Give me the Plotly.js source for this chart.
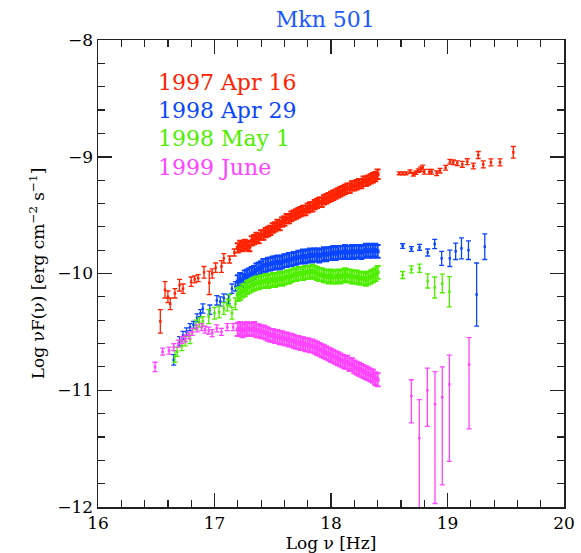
<!DOCTYPE html>
<html>
<head>
<meta charset="utf-8">
<script src="https://cdn.plot.ly/plotly-3.0.1.min.js"></script>
<style>html,body{margin:0;padding:0;background:#fff;}#chart{width:581px;height:553px;}</style>
</head>
<body>
<div id="chart"></div>
<script>
// ---- Data (log nu [Hz], log nuF(nu) [erg cm^-2 s^-1]) ----
const seriesNames = ["1997 Apr 16", "1998 Apr 29", "1998 May 1", "1999 June"];

// common frequency grid of the dense X-ray band (read every ~0.02 dex)
const xDense = [17.20,17.22,17.24,17.26,17.28,17.30,17.32,17.34,17.36,17.38,17.40,17.42,17.44,17.46,17.48,17.50,17.52,17.54,17.56,17.58,17.60,17.62,17.64,17.66,17.68,17.70,17.72,17.74,17.76,17.78,17.80,17.82,17.84,17.86,17.88,17.90,17.92,17.94,17.96,17.98,18.00,18.02,18.04,18.06,18.08,18.10,18.12,18.14,18.16,18.18,18.20,18.22,18.24,18.26,18.28,18.30,18.32,18.34,18.36,18.38,18.40];

// 1997 Apr 16 (red)
const redLowX = [16.535,16.575,16.60,16.62,16.66,16.70,16.73,16.80,16.83,16.86,16.91,16.955,16.98,17.01,17.06,17.08,17.13,17.17];
const redLowY = [-10.41,-10.14,-10.20,-10.26,-10.17,-10.10,-10.13,-10.07,-10.05,-10.04,-9.99,-10.08,-10.00,-9.95,-9.94,-9.87,-9.88,-9.82];
const redLowErr = [0.10,0.07,0.05,0.05,0.04,0.05,0.04,0.04,0.03,0.03,0.05,0.10,0.04,0.04,0.05,0.04,0.03,0.03];
const redDenseY = [-9.78,-9.76,-9.77,-9.75,-9.76,-9.77,-9.72,-9.71,-9.69,-9.70,-9.67,-9.67,-9.65,-9.64,-9.63,-9.61,-9.60,-9.58,-9.59,-9.56,-9.55,-9.53,-9.53,-9.51,-9.50,-9.49,-9.48,-9.47,-9.46,-9.46,-9.44,-9.43,-9.43,-9.41,-9.40,-9.39,-9.39,-9.37,-9.36,-9.35,-9.34,-9.33,-9.32,-9.31,-9.30,-9.29,-9.28,-9.27,-9.27,-9.25,-9.25,-9.24,-9.23,-9.23,-9.21,-9.21,-9.20,-9.19,-9.18,-9.17,-9.15];
const redDenseErr = 0.04;
const redHighX = [18.586,18.615,18.644,18.678,18.707,18.730,18.749,18.770,18.787,18.801,18.844,18.864,18.907,18.936,18.984,19.021,19.050,19.084,19.127,19.170,19.222,19.264,19.307,19.373,19.451,19.565];
const redHighY = [-9.142,-9.142,-9.142,-9.128,-9.150,-9.136,-9.119,-9.108,-9.091,-9.128,-9.128,-9.128,-9.142,-9.119,-9.094,-9.042,-9.048,-9.056,-9.065,-9.042,-9.079,-8.985,-9.065,-9.048,-9.048,-8.962];
const redHighErr = [0.012,0.012,0.012,0.015,0.015,0.015,0.015,0.02,0.02,0.02,0.02,0.02,0.02,0.02,0.02,0.02,0.02,0.02,0.025,0.025,0.025,0.03,0.03,0.03,0.03,0.05];

// 1998 Apr 29 (blue)
const blueLowX = [16.65,16.70,16.73,16.76,16.79,16.82,16.85,16.88,16.90,16.96,17.02,17.05,17.08,17.12,17.15,17.18];
const blueLowY = [-10.74,-10.58,-10.53,-10.50,-10.46,-10.44,-10.38,-10.34,-10.30,-10.31,-10.23,-10.24,-10.21,-10.22,-10.13,-10.11];
const blueLowErr = [0.045,0.04,0.035,0.035,0.03,0.03,0.035,0.03,0.04,0.04,0.04,0.04,0.035,0.04,0.04,0.04];
const blueDenseY = [-10.07,-10.05,-10.06,-10.03,-10.02,-10.01,-10.00,-9.99,-9.97,-9.96,-9.95,-9.93,-9.93,-9.92,-9.92,-9.91,-9.91,-9.90,-9.91,-9.90,-9.89,-9.89,-9.88,-9.88,-9.87,-9.87,-9.86,-9.86,-9.85,-9.86,-9.85,-9.84,-9.85,-9.84,-9.84,-9.85,-9.84,-9.83,-9.84,-9.83,-9.83,-9.82,-9.83,-9.82,-9.82,-9.82,-9.81,-9.82,-9.82,-9.81,-9.82,-9.81,-9.81,-9.82,-9.81,-9.80,-9.81,-9.80,-9.81,-9.80,-9.81];
const blueDenseErr = 0.055;
const blueHighX = [18.615,18.69,18.76,18.83,18.89,18.95,19.02,19.07,19.12,19.18,19.25,19.32];
const blueHighY = [-9.765,-9.79,-9.776,-9.82,-9.747,-9.87,-9.87,-9.81,-9.785,-9.80,-10.18,-9.77];
const blueHighErr = [0.02,0.02,0.025,0.03,0.04,0.06,0.07,0.07,0.09,0.08,0.27,0.11];

// 1998 May 1 (green)
const greenLowX = [16.66,16.68,16.72,16.75,16.79,16.84,16.87,16.90,16.95,17.00,17.04,17.08,17.11,17.13,17.15,17.18];
const greenLowY = [-10.71,-10.67,-10.62,-10.58,-10.56,-10.44,-10.42,-10.41,-10.37,-10.34,-10.33,-10.30,-10.27,-10.23,-10.34,-10.26];
const greenLowErr = [0.05,0.04,0.04,0.04,0.04,0.04,0.04,0.04,0.06,0.05,0.05,0.05,0.05,0.05,0.05,0.05];
const greenDenseY = [-10.18,-10.17,-10.15,-10.14,-10.12,-10.11,-10.10,-10.09,-10.08,-10.08,-10.07,-10.07,-10.06,-10.07,-10.06,-10.05,-10.06,-10.05,-10.04,-10.05,-10.04,-10.03,-10.03,-10.02,-10.01,-10.01,-10.00,-10.00,-10.00,-9.99,-9.99,-9.99,-9.98,-9.99,-10.00,-10.01,-10.01,-10.02,-10.02,-10.03,-10.02,-10.03,-10.03,-10.02,-10.03,-10.02,-10.01,-10.02,-10.02,-10.03,-10.03,-10.03,-10.04,-10.04,-10.04,-10.05,-10.04,-10.03,-10.02,-10.01,-9.99];
const greenDenseErr = 0.055;
const greenHighX = [18.615,18.69,18.76,18.83,18.89,18.955,19.016];
const greenHighY = [-10.013,-9.964,-9.955,-10.064,-10.12,-10.085,-10.156];
const greenHighErr = [0.03,0.03,0.035,0.06,0.09,0.08,0.13];

// 1999 June (magenta)
const magLowX = [16.49,16.555,16.61,16.65,16.69,16.72,16.75,16.78,16.81,16.85,16.89,16.92,16.95,16.98,17.02,17.06,17.11,17.16];
const magLowY = [-10.80,-10.67,-10.66,-10.63,-10.60,-10.57,-10.555,-10.53,-10.50,-10.47,-10.46,-10.48,-10.49,-10.51,-10.47,-10.50,-10.46,-10.46];
const magLowErr = [0.04,0.03,0.03,0.03,0.03,0.03,0.03,0.03,0.03,0.03,0.03,0.03,0.03,0.03,0.03,0.03,0.03,0.03];
const magDenseY = [-10.48,-10.47,-10.49,-10.48,-10.47,-10.48,-10.48,-10.47,-10.49,-10.49,-10.50,-10.50,-10.51,-10.52,-10.53,-10.53,-10.54,-10.54,-10.55,-10.55,-10.56,-10.56,-10.57,-10.57,-10.58,-10.59,-10.59,-10.60,-10.60,-10.61,-10.61,-10.62,-10.62,-10.63,-10.64,-10.65,-10.66,-10.67,-10.68,-10.69,-10.70,-10.71,-10.72,-10.73,-10.74,-10.75,-10.76,-10.76,-10.78,-10.78,-10.80,-10.81,-10.82,-10.83,-10.84,-10.85,-10.86,-10.87,-10.88,-10.90,-10.91];
const magDenseErr = 0.055;
const magHighX = [18.69,18.758,18.827,18.893,18.955,19.016,19.185];
const magHighY = [-11.05,-11.41,-11.00,-11.12,-11.06,-10.95,-10.78];
const magHighErrPlus = [0.14,0.33,0.19,0.28,0.26,0.25,0.23];
const magHighErrMinus = [0.23,0.90,0.31,0.85,0.75,0.66,0.55];

// ---- Styling ----
const colors = ["#ff2200", "#0a46ff", "#4fee00", "#ff44ff"];
const SERIF = "DejaVu Serif, Liberation Serif, serif";

function seg(x, y, err, color, errMinus) {
  const ey = {type: 'data', array: err, visible: true, color: color, thickness: 1.3, width: 2.5};
  if (errMinus) { ey.symmetric = false; ey.arrayminus = errMinus; }
  return {x: x, y: y, type: 'scatter', mode: 'markers', showlegend: false,
    marker: {color: color, size: 2.5, symbol: 'square'}, error_y: ey};
}
function segConst(x, y, errVal, color) {
  return {x: x, y: y, type: 'scatter', mode: 'markers', showlegend: false,
    marker: {color: color, size: 4, symbol: 'square'},
    error_y: {type: 'constant', value: errVal, visible: true, color: color, thickness: 2, width: 3}};
}

const traces = [
  seg(redLowX, redLowY, redLowErr, colors[0]),
  segConst(xDense, redDenseY, redDenseErr, colors[0]),
  seg(redHighX, redHighY, redHighErr, colors[0]),
  seg(blueLowX, blueLowY, blueLowErr, colors[1]),
  segConst(xDense, blueDenseY, blueDenseErr, colors[1]),
  seg(blueHighX, blueHighY, blueHighErr, colors[1]),
  seg(greenLowX, greenLowY, greenLowErr, colors[2]),
  segConst(xDense, greenDenseY, greenDenseErr, colors[2]),
  seg(greenHighX, greenHighY, greenHighErr, colors[2]),
  seg(magLowX, magLowY, magLowErr, colors[3]),
  segConst(xDense, magDenseY, magDenseErr, colors[3]),
  seg(magHighX, magHighY, magHighErrPlus, colors[3], magHighErrMinus)
];

const axisCommon = {
  showgrid: false, zeroline: false, showline: true, linecolor: '#222', linewidth: 1.5,
  mirror: 'allticks', ticks: 'inside', ticklen: 14, tickwidth: 1.5, tickcolor: '#222',
  dtick: 1, tickfont: {family: SERIF, size: 17, color: '#000'},
  minor: {ticks: 'inside', ticklen: 7, dtick: 0.2, tickwidth: 1.2, tickcolor: '#222', showgrid: false}
};

const legendY = [0.910, 0.850, 0.790, 0.728];
const annotations = seriesNames.map((n, i) => ({
  text: n, xref: 'paper', yref: 'paper', x: 0.124, y: legendY[i],
  xanchor: 'left', yanchor: 'middle', showarrow: false,
  font: {family: SERIF, size: 22, color: colors[i]}
}));

const layout = {
  width: 581, height: 553,
  margin: {l: 98, r: 17, t: 40, b: 46},
  paper_bgcolor: '#fff', plot_bgcolor: '#fff',
  title: {text: 'Mkn 501', font: {family: SERIF, size: 22, color: '#1a5aff'}, x: 0.56, xanchor: 'center', y: 0.965, yanchor: 'middle'},
  xaxis: Object.assign({}, axisCommon, {range: [16, 20],
    title: {text: 'Log ν [Hz]', font: {family: SERIF, size: 17, color: '#000'}, standoff: 2}}),
  yaxis: Object.assign({}, axisCommon, {range: [-12, -8],
    title: {text: 'Log νF(ν) [erg cm<sup>−2</sup> s<sup>−1</sup>]', font: {family: SERIF, size: 17, color: '#000'}, standoff: 8}}),
  annotations: annotations,
  showlegend: false
};

Plotly.newPlot('chart', traces, layout, {staticPlot: true, displayModeBar: false});
</script>
</body>
</html>
